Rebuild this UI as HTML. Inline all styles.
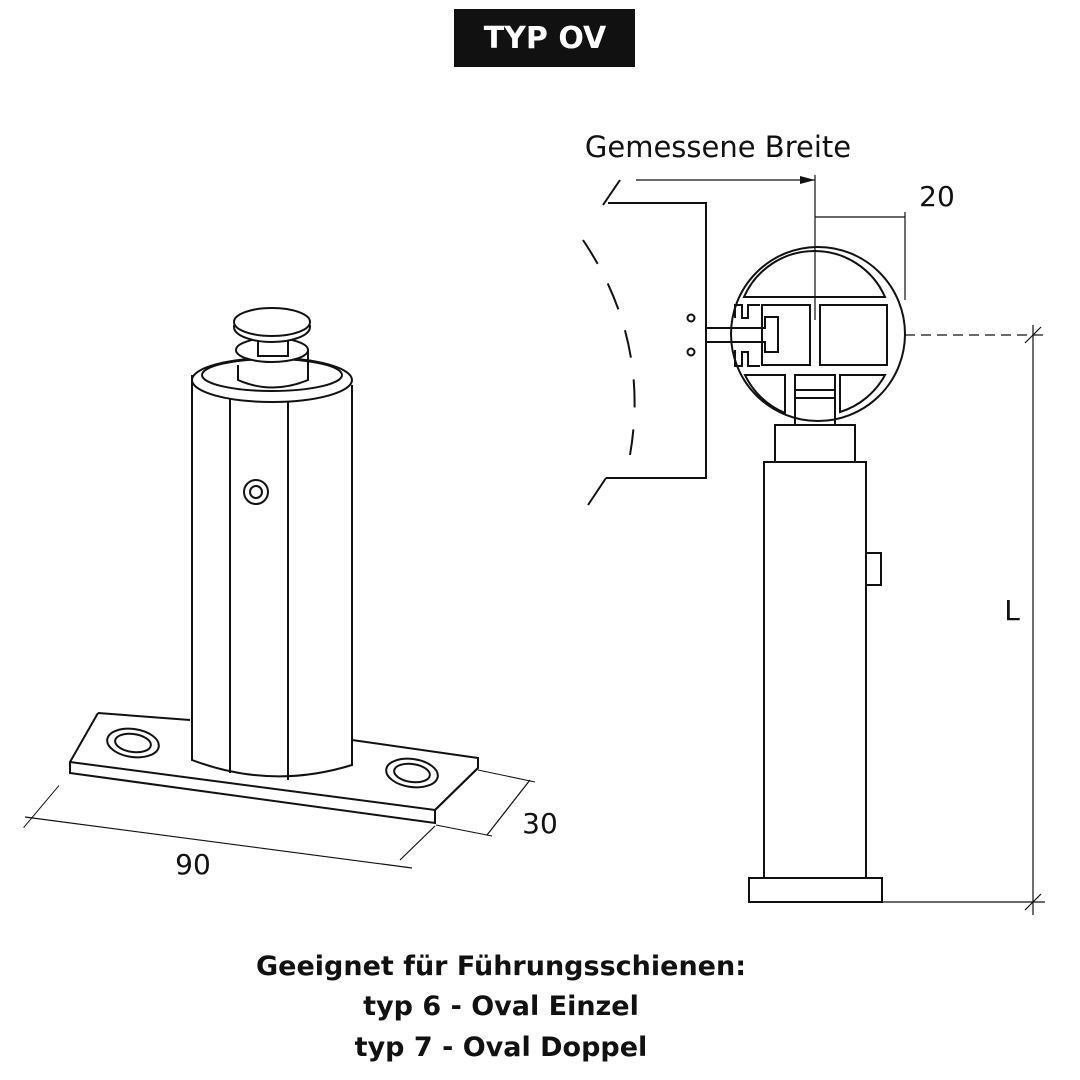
<!DOCTYPE html>
<html><head><style>
body{margin:0;background:#fff;width:1080px;height:1080px;overflow:hidden}
svg{position:absolute;left:0;top:0}
.t{font-family:"DejaVu Sans","Liberation Sans",sans-serif}
</style></head><body>
<svg width="1080" height="1080" viewBox="0 0 1080 1080" fill="none" stroke="#111" stroke-width="2">
<rect x="455" y="10" width="179" height="56" fill="#111"/>
<text x="545" y="48" text-anchor="middle" class="t" font-weight="bold" font-size="30" fill="#fff" stroke="none">TYP OV</text>

<path d="M98 713 L190 720 M352 740 L478 758 L478 768 L435 810 L435 823 L70 773 L70 762 L98 713" />
<path d="M70 762 L435 810 L478 768" />
<ellipse cx="133" cy="743" rx="26" ry="14" transform="rotate(8 133 743)"/>
<ellipse cx="133" cy="743" rx="18" ry="9" transform="rotate(8 133 743)"/>
<ellipse cx="412" cy="773" rx="26" ry="14" transform="rotate(8 412 773)"/>
<ellipse cx="412" cy="773" rx="18" ry="9" transform="rotate(8 412 773)"/>
<path d="M192 375 L192 760 Q271 790 352 765 L352 385" fill="#fff"/>
<line x1="230" y1="390" x2="230" y2="773"/>
<line x1="288" y1="392" x2="288" y2="780"/>
<ellipse cx="272" cy="380" rx="80" ry="22" fill="#fff"/>
<ellipse cx="272" cy="375" rx="70" ry="16"/>
<path d="M238 365 L238 380 Q272 395 308 380 L308 350"/>
<ellipse cx="272" cy="350" rx="36" ry="12" fill="#fff"/>
<rect x="258" y="338" width="30" height="18" fill="#fff"/>
<ellipse cx="272" cy="327" rx="38" ry="15" fill="#fff"/>
<ellipse cx="272" cy="322" rx="38" ry="14" fill="#fff"/>
<circle cx="256" cy="492" r="12"/><circle cx="256" cy="492" r="6"/>
<line x1="25" y1="817" x2="412" y2="868" stroke-width="1.2"/>
<line x1="30" y1="775" x2="30" y2="830" stroke-width="1" transform="rotate(40 30 820)"/>
<line x1="400" y1="860" x2="435" y2="826" stroke-width="1.2"/>
<line x1="478" y1="770" x2="535" y2="782" stroke-width="1"/>
<line x1="436" y1="825" x2="492" y2="836" stroke-width="1"/>
<line x1="530" y1="780" x2="487" y2="835" stroke-width="1.2"/>
<text x="193" y="874" text-anchor="middle" class="t" font-size="28" fill="#111" stroke="none">90</text>
<text x="540" y="833" text-anchor="middle" class="t" font-size="28" fill="#111" stroke="none">30</text>

<text x="718" y="157" text-anchor="middle" class="t" font-size="29" fill="#111" stroke="none">Gemessene Breite</text>
<line x1="636" y1="180" x2="815" y2="180" stroke-width="1.2"/>
<path d="M815 180 L800 176 L800 184 Z" fill="#111" stroke="none"/>
<line x1="815" y1="175" x2="815" y2="320" stroke-width="1.2"/>
<line x1="815" y1="217" x2="905" y2="217" stroke-width="1.2"/>
<line x1="905" y1="212" x2="905" y2="300" stroke-width="1.2"/>
<text x="937" y="206" text-anchor="middle" class="t" font-size="28" fill="#111" stroke="none">20</text>
<path d="M603 205 L620 180 M608 203 L706 203 L706 478 L606 478 M588 505 L606 478"/>
<path d="M583 240 Q650 340 630 455" stroke-dasharray="28 22"/>
<circle cx="691" cy="318" r="3.5"/><circle cx="691" cy="352" r="3.5"/>
<path d="M706 328 L765 328 L765 317 L778 317 L778 352 L765 352 L765 342 L706 342"/>
<circle cx="818" cy="334" r="87"/>
<path d="M744 297 A77 77 0 0 1 885 297 Z"/>
<path d="M735 318 L735 305 L742 305 L742 318 L748 318 L748 305 L760 305 M735 350 L735 366 L742 366 L742 352 L748 352 L748 366 L760 366"/>
<rect x="762" y="305" width="48" height="60"/>
<rect x="820" y="305" width="67" height="60"/>
<path d="M745 375 L785 375 L785 413 A77 77 0 0 1 745 375Z"/>
<path d="M840 375 L885 375 A77 77 0 0 1 840 412Z"/>
<rect x="795" y="375" width="40" height="50"/>
<line x1="795" y1="390" x2="835" y2="390"/>
<line x1="795" y1="398" x2="835" y2="398"/>
<rect x="775" y="425" width="80" height="37"/>
<rect x="764" y="462" width="102" height="416"/>
<rect x="866" y="553" width="15" height="32"/>
<rect x="749" y="878" width="133" height="24"/>
<line x1="905" y1="335" x2="1045" y2="335" stroke-dasharray="10 6" stroke-width="1.2"/>
<line x1="882" y1="902" x2="1045" y2="902" stroke-width="1.2"/>
<line x1="1033" y1="325" x2="1033" y2="915" stroke-width="1.2"/>
<line x1="1025" y1="343" x2="1041" y2="327" stroke-width="1.2"/>
<line x1="1025" y1="910" x2="1041" y2="894" stroke-width="1.2"/>
<text x="1012" y="620" text-anchor="middle" class="t" font-size="28" fill="#111" stroke="none">L</text>

<g class="t" font-weight="bold" font-size="27" fill="#111" stroke="none" text-anchor="middle">
<text x="501" y="975">Geeignet für Führungsschienen:</text>
<text x="501" y="1015">typ 6 - Oval Einzel</text>
<text x="501" y="1056">typ 7 - Oval Doppel</text>
</g>
</svg>
</body></html>
